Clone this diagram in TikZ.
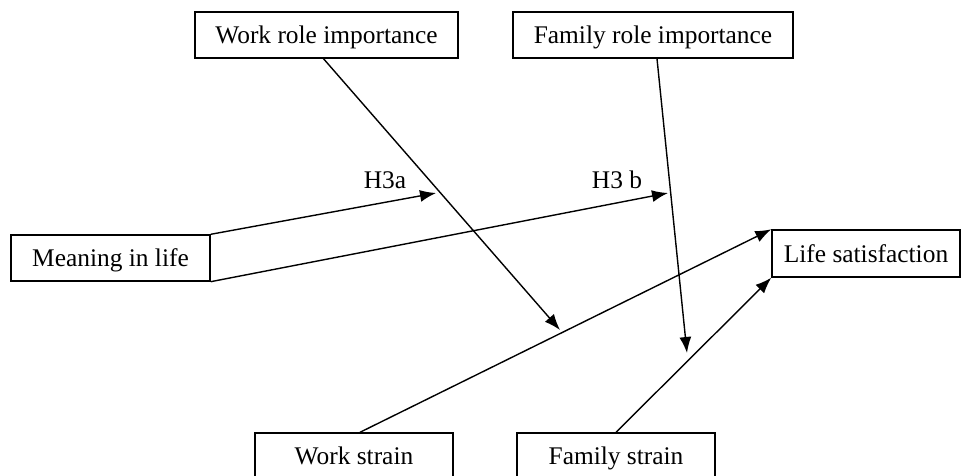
\documentclass[tikz,border=0pt]{standalone}
\usepackage{fontspec}
\setmainfont{Liberation Serif}
\usetikzlibrary{arrows.meta}
\begin{document}
\begin{tikzpicture}[x=1pt,y=-1pt,
  box/.style={draw,line width=1.4pt,inner sep=0pt,minimum height=46pt,text height=20pt,text depth=2.6pt,font=\fontsize{25.4}{30}\selectfont},
  lbl/.style={inner sep=0pt,text height=20pt,text depth=2.6pt,font=\fontsize{25.4}{30}\selectfont},
  conn/.style={line width=1.4pt},
  arr/.style={conn,-{Latex[length=16pt,width=12pt]}}]
\useasboundingbox (0,0) rectangle (962,476);
\clip (0,0) rectangle (962,476);
\node[box,minimum width=263pt] (wr) at (326.5,35) {Work role importance};
\node[box,minimum width=280pt] (fr) at (653,35) {Family role importance};
\node[box,minimum width=199pt] (ml) at (110.5,258) {Meaning in life};
\node[box,minimum width=188pt,minimum height=47pt] (ls) at (866,253.5) {Life satisfaction};
\node[box,minimum width=198pt] (ws) at (354,456) {Work strain};
\node[box,minimum width=198pt] (fs) at (616,456) {Family strain};
\node[lbl] (h3a) at (385,179.5) {H3a};
\node[lbl] (h3b) at (617,179.5) {H3 b};
\coordinate (wrt) at (560,330);
\coordinate (frt) at (687,353);
\coordinate (pa) at (436,193);
\coordinate (pb) at (668,193);
\draw[arr] ([xshift=-3pt]wr.south) -- (wrt);
\draw[arr] ([xshift=4pt]fr.south) -- (frt);
\draw[arr] (ml.north east) -- (pa);
\draw[arr] (ml.south east) -- (pb);
\draw[arr] ([xshift=6pt]ws.north) -- (ls.north west);
\draw[arr] (fs.north) -- (ls.south west);
\end{tikzpicture}
\end{document}
